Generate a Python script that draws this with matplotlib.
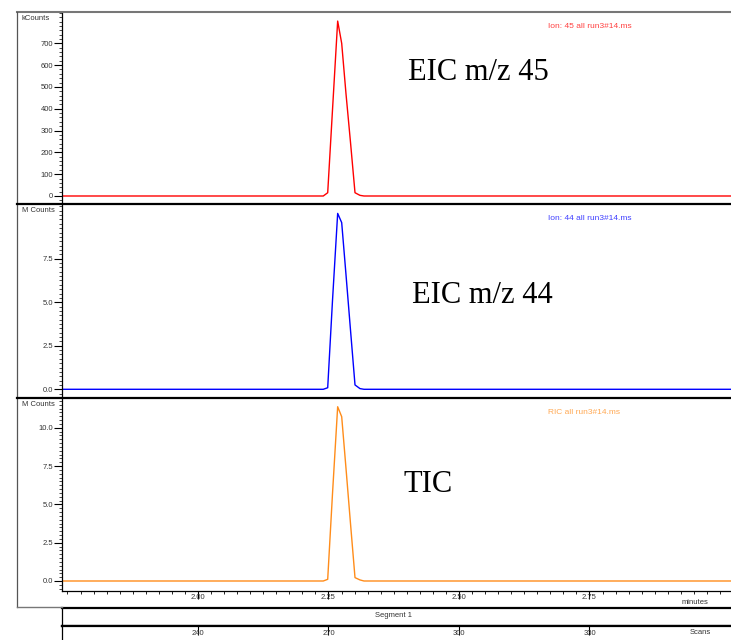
#chromatogram  EIC 45 / EIC 44 / TIC

import numpy as np
import matplotlib
matplotlib.use("Agg")
import matplotlib.pyplot as plt
from matplotlib.lines import Line2D
from matplotlib.ticker import MultipleLocator, FixedLocator

# retention time (minutes)
rt = [1.74, 2.00, 2.2400, 2.2485, 2.2577, 2.2676, 2.2753, 2.2835, 2.2921,
      2.3008, 2.3103, 2.3180, 2.50, 2.75, 3.02]
# ion 45, kCounts
eic45 = [0, 0, 0, 15, 395, 802, 700, 470, 248, 15, 3, 0, 0, 0, 0]
# ion 44, MCounts
eic44 = [0, 0, 0, 0.09, 5.1, 10.1, 9.57, 6.6, 3.43, 0.25, 0.04, 0, 0, 0, 0]
# RIC, MCounts
tic = [0, 0, 0, 0.11, 5.7, 11.37, 10.72, 7.37, 3.78, 0.22, 0.07, 0, 0, 0, 0]

time_ticks = [2.00, 2.25, 2.50, 2.75]
time_labels = ["2.00", "2.25", "2.50", "2.75"]
scan_ticks = [240, 270, 300, 330]
scan_labels = ["240", "270", "300", "330"]

panel_names = ["EIC m/z 45", "EIC m/z 44", "TIC"]
trace_names = ["Ion: 45 all run3#14.ms", "Ion: 44 all run3#14.ms", "RIC all run3#14.ms"]
units = ["kCounts", "M Counts", "M Counts"]
colors = ["#ff0000", "#0000ff", "#ff8c1a"]

plt.rcParams['font.family'] = ['Liberation Sans', 'DejaVu Sans']
small = 5.5
txtc = "#333333"

W, H = 731, 640
fig = plt.figure(figsize=(W / 100, H / 100), dpi=100)

def fx(px):
    return px / W

def fy(py):
    return 1 - py / H

L = fx(62)
AW = 1 - L
xlim = (1.7395, 3.0211)

# panel layout: (top px, bottom px, ylim, major ticks, labels, minor step, name pos)
panels = [
    (12, 204, (-36.7, 843.6), [0, 100, 200, 300, 400, 500, 600, 700],
     ["0", "100", "200", "300", "400", "500", "600", "700"], 20, (0.517, 0.646)),
    (204, 398, (-0.50, 10.64), [0, 2.5, 5.0, 7.5],
     ["0.0", "2.5", "5.0", "7.5"], 0.25, (0.523, 0.490)),
    (398, 590.5, (-0.62, 11.94), [0, 2.5, 5.0, 7.5, 10.0],
     ["0.0", "2.5", "5.0", "7.5", "10.0"], 0.25, (0.510, 0.512)),
]
series = [eic45, eic44, tic]

axes = []
for i, (top, bot, ylim, yt, ytl, mstep, npos) in enumerate(panels):
    ax = fig.add_axes([L, fy(bot), AW, (bot - top) / H])
    ax.plot(rt, series[i], color=colors[i], lw=1.0)
    ax.set_xlim(*xlim)
    ax.set_ylim(*ylim)
    for s in ["top", "right", "bottom"]:
        ax.spines[s].set_visible(False)
    ax.spines["left"].set_linewidth(0.9)
    ax.set_yticks(yt)
    ax.set_yticklabels(ytl)
    ax.yaxis.set_minor_locator(MultipleLocator(mstep))
    ax.tick_params(axis='y', which='major', length=6, width=0.8, pad=0.5,
                   labelsize=small, labelcolor=txtc)
    ax.tick_params(axis='y', which='minor', length=2.2, width=0.5)
    ax.text(npos[0], npos[1], panel_names[i], transform=ax.transAxes,
            fontsize=22, family='Liberation Serif', ha='left', va='baseline')
    ax.text(0.7265, 1 - 14 / (bot - top), trace_names[i], transform=ax.transAxes,
            fontsize=6, color=colors[i], ha='left', va='center', alpha=0.75)
    fig.text(fx(22), fy(top + 6), units[i], fontsize=small, color=txtc,
             ha='left', va='center')
    if i < 2:
        ax.set_xticks([])
    axes.append(ax)

ax3 = axes[2]
ax3.spines["bottom"].set_visible(True)
ax3.spines["bottom"].set_linewidth(0.9)
ax3.set_xticks(time_ticks)
ax3.set_xticklabels(time_labels)
ax3.xaxis.set_minor_locator(MultipleLocator(0.025))
ax3.tick_params(axis='x', which='major', length=6, width=0.8, pad=-3.5,
                labelsize=small, labelcolor=txtc)
ax3.tick_params(axis='x', which='minor', length=2.5, width=0.6)

# segment band
seg = fig.add_axes([L, fy(625.7), AW, (625.7 - 607.7) / H])
seg.set_xlim(*xlim)
seg.set_xticks([])
seg.set_yticks([])
seg.spines["right"].set_visible(False)
for s in ["top", "bottom"]:
    seg.spines[s].set_linewidth(1.6)
seg.spines["left"].set_linewidth(0.9)
seg.text(0.495, 0.55, "Segment 1", transform=seg.transAxes, fontsize=small,
         color=txtc, ha='center', va='center')

# scan axis
scan_lim = (240 + (xlim[0] - 2.0) * 120, 240 + (xlim[1] - 2.0) * 120)
sc = fig.add_axes([L, 0, AW, (640 - 625.7) / H])
sc.set_xlim(*scan_lim)
sc.set_ylim(0, 1)
sc.set_yticks([])
for s in ["right", "bottom"]:
    sc.spines[s].set_visible(False)
sc.spines["top"].set_linewidth(1.6)
sc.spines["left"].set_linewidth(0.9)
sc.xaxis.set_major_locator(FixedLocator(scan_ticks))
sc.tick_params(axis='x', top=True, bottom=False, labelbottom=False,
               direction='in', length=6.5, width=0.8)
for v, lab in zip(scan_ticks, scan_labels):
    sc.text(v, 0.45, lab, transform=sc.get_xaxis_transform(), fontsize=small,
            color=txtc, ha='center', va='center')

fig.text(fx(682), fy(603), "minutes", fontsize=small, color=txtc, ha='left', va='center')
fig.text(fx(690), fy(632), "Scans", fontsize=small, color=txtc, ha='left', va='center')

# frame lines
fig.add_artist(Line2D([fx(17), 1], [fy(12), fy(12)], transform=fig.transFigure,
                      color="#777777", lw=1.5))
fig.add_artist(Line2D([fx(17), fx(17)], [fy(12), fy(607)], transform=fig.transFigure,
                      color="#555555", lw=0.9))
fig.add_artist(Line2D([fx(17), fx(62)], [fy(607), fy(607)], transform=fig.transFigure,
                      color="#777777", lw=1.0))
for yy in [204, 398]:
    fig.add_artist(Line2D([fx(17), 1], [fy(yy), fy(yy)], transform=fig.transFigure,
                          color="black", lw=1.6))

fig.savefig("out.png", dpi=100)
